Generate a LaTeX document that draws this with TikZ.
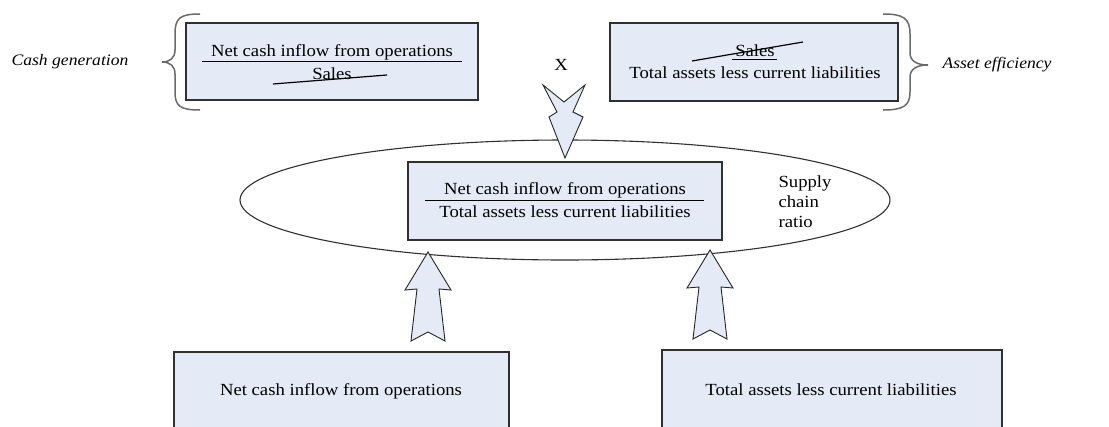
\documentclass[tikz,border=0pt]{standalone}
\usepackage{fontspec}
\setmainfont[FakeStretch=1.1]{Liberation Serif}
\usetikzlibrary{shapes.geometric,calc}
\definecolor{boxblue}{HTML}{E4EBF6}
\definecolor{edgegray}{HTML}{303030}
\definecolor{bracegray}{HTML}{6A6A6A}

\begin{document}
\begin{tikzpicture}[x=1pt,y=-1pt,font=\fontsize{17}{20}\selectfont,
  ratiobox/.style={draw=edgegray,line width=1.4pt,fill=boxblue,inner sep=0pt},
  blockarr/.style={draw=black!85,line width=0.9pt,fill=boxblue,line join=miter},
  bracepath/.style={draw=bracegray,line width=1.5pt},
  strike/.style={line width=1.2pt},
  sidelabel/.style={font=\fontsize{16}{19}\selectfont\itshape},
  uparr/.pic={\draw[blockarr] (0,0) -- (23,38) -- (11,37) -- (17,89) -- (0,80)
    -- (-17,89) -- (-11,37) -- (-23,38) -- cycle;},
  downarr/.pic={\draw[blockarr] (0,0) -- (18,-41) -- (8,-46) -- (20,-73) -- (-1,-56)
    -- (-22,-73) -- (-8,-46) -- (-16,-41) -- cycle;}]
\clip (0,0) rectangle (1109,426);

% ellipse round the supply chain ratio
\node[ellipse,draw=edgegray,line width=1.1pt,minimum width=650,minimum height=120,inner sep=0pt] (ring) at (565,200) {};

% boxes
\node[ratiobox,minimum width=292,minimum height=77] (cashgen) at (332,61.5) {};
\node[ratiobox,minimum width=288,minimum height=78] (assetef) at (754,62) {};
\node[ratiobox,minimum width=314,minimum height=78] (scr) at (565,201) {};
\node[ratiobox,minimum width=335,minimum height=110] (inflow) at (341.5,407) {};
\node[ratiobox,minimum width=340,minimum height=110] (assets) at (832,405) {};

% cash generation fraction
\node (cgnum) at (332,52) {Net cash inflow from operations};
\node (cgden) at (332,74) {Sales};
\draw[line width=1pt] (202,61) -- (462,61);
\draw[strike] (273,84) -- (387,75);

% asset efficiency fraction
\node (aenum) at (755,51) {Sales};
\node (aeden) at (755,73) {Total assets less current liabilities};
\draw[line width=1pt] (732,59) -- (777,59);
\draw[strike] (692,61) -- (803,42);

% supply chain ratio
\node (scnum) at (565,190) {Net cash inflow from operations};
\node (scden) at (565,212) {Total assets less current liabilities};
\draw[line width=1pt] (425,200) -- (704,200);
\node[align=left,anchor=west] (sclbl) at (775,202) {Supply\\chain\\ratio};

% bottom boxes
\node (inflowtxt) at (341,391) {Net cash inflow from operations};
\node (assetstxt) at (831,390) {Total assets less current liabilities};

% side labels, braces and the X
\node[sidelabel] (cashlbl) at (70,62) {Cash generation};
\node[sidelabel] (assetlbl) at (997,65) {Asset efficiency};
\node (times) at (561,65) {X};
\draw[bracepath] (200,14) .. controls (180,14) and (175,18) .. (175,34) -- (175,50)
  .. controls (175,58) and (170,62) .. (162,62) .. controls (170,62) and (175,66) .. (175,74)
  -- (175,92) .. controls (175,106) and (180,110) .. (200,110);
\draw[bracepath] (883,14) .. controls (903,14) and (910,18) .. (910,34) -- (910,53)
  .. controls (910,61) and (917,65) .. (928,65) .. controls (917,65) and (910,69) .. (910,77)
  -- (910,92) .. controls (910,106) and (903,110) .. (883,110);

% block arrows
\coordinate (tipD) at (565,158);
\coordinate (tipL) at (428,252);
\coordinate (tipR) at (710,250);
\pic at (tipD) {downarr};
\pic at (tipL) {uparr};
\pic at (tipR) {uparr};
\end{tikzpicture}
\end{document}
